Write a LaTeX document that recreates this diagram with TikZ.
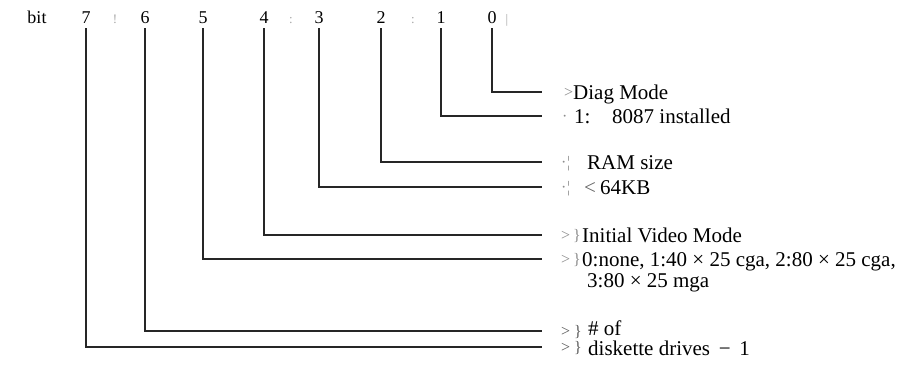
\documentclass[tikz,border=0pt]{standalone}
\usepackage{fontspec}
\setmainfont{Liberation Serif}
\begin{document}
\begin{tikzpicture}[x=1pt,y=-1pt,
  bitnum/.style={font=\fontsize{18}{21}\selectfont, inner sep=0pt, anchor=base},
  lbl/.style={font=\fontsize{21}{24}\selectfont, inner sep=0pt, anchor=base west},
  mk/.style={font=\fontsize{16}{18}\selectfont, text=black!45, inner sep=0pt, anchor=base west},
  sepmark/.style={font=\fontsize{13}{16}\selectfont, text=black!35, inner sep=0pt, anchor=base},
  wire/.style={line width=1.1pt, black!85}]
\useasboundingbox (0,0) rectangle (909,365);
% header row
\node[bitnum] (bitword) at (37,23) {bit};
\node[bitnum] (b7) at (86,23) {7};
\node[bitnum] (b6) at (145,23) {6};
\node[bitnum] (b5) at (203,23) {5};
\node[bitnum] (b4) at (264,23) {4};
\node[bitnum] (b3) at (319,23) {3};
\node[bitnum] (b2) at (381,23) {2};
\node[bitnum] (b1) at (441,23) {1};
\node[bitnum] (b0) at (492,23) {0};
\node[sepmark] (s76) at (115,23) {!};
\node[sepmark] (s43) at (291,23) {:};
\node[sepmark] (s21) at (413,23) {:};
\node[sepmark] (s0) at (507,23) {|};
% line ends
\coordinate (e0) at (542,92);
\coordinate (e1) at (542,116);
\coordinate (e2) at (542,162);
\coordinate (e3) at (542,187);
\coordinate (e4) at (542,235);
\coordinate (e5) at (542,259);
\coordinate (e6) at (542,331);
\coordinate (e7) at (542,347);
% connectors
\foreach \i in {0,...,7}{
  \draw[wire] ([yshift=-5pt]b\i.south) |- (e\i);
}
% markers
\node[mk] (m0) at (564,97) {>};
\node[mk] (m1) at (562,121) {·};
\node[mk] (m2a) at (561,167) {·};
\node[mk] (m2b) at (567,167) {¦};
\node[mk] (m3a) at (561,192) {·};
\node[mk] (m3b) at (567,192) {¦};
\node[mk] (m4a) at (561,240) {>};
\node[mk] (m4b) at (573,240) {\}};
\node[mk] (m5a) at (561,264) {>};
\node[mk] (m5b) at (573,264) {\}};
\node[mk, text=black!65] (m6a) at (561,336) {>};
\node[mk, text=black!65] (m6b) at (574,336) {\}};
\node[mk, text=black!65] (m7a) at (561,352) {>};
\node[mk, text=black!65] (m7b) at (574,352) {\}};
% labels
\node[lbl] (t0) at (573,99) {Diag Mode};
\node[lbl] (t1a) at (574,123) {1:};
\node[lbl] (t1) at (612,123) {8087 installed};
\node[lbl] (t2) at (587,169) {RAM size};
\node[lbl, text=black!60] (t3a) at (584,194) {<};
\node[lbl] (t3) at (600,194) {64KB};
\node[lbl] (t4) at (582,242) {Initial Video Mode};
\node[lbl] (t5) at (582,266) {0:none, 1:40 × 25 cga, 2:80 × 25 cga,};
\node[lbl] (t5b) at (587,287) {3:80 × 25 mga};
\node[lbl, text depth=0pt] (t6) at (588,335) {\# of};
\node[lbl] (t7) at (588,355) {diskette drives \,−\, 1};
\end{tikzpicture}
\end{document}
